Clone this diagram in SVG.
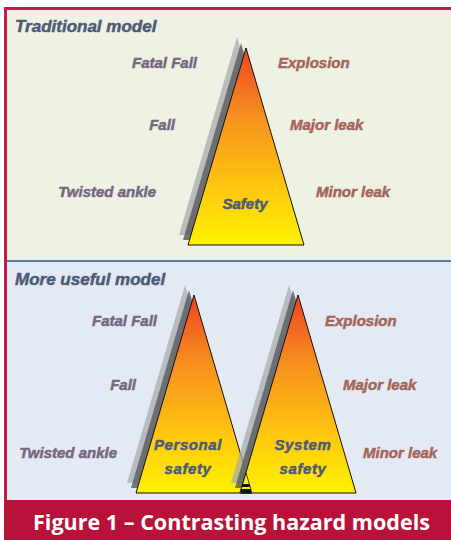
<svg xmlns="http://www.w3.org/2000/svg" width="451" height="540" viewBox="0 0 451 540">
<defs>
<linearGradient id="g" x1="0" y1="0" x2="0" y2="1">
<stop offset="0" stop-color="#EE4423"/>
<stop offset="0.35" stop-color="#F7901E"/>
<stop offset="0.7" stop-color="#FEC60F"/>
<stop offset="1" stop-color="#FFF200"/>
</linearGradient>
<style>
.lbl{font-family:"Liberation Sans",Arial,sans-serif;font-weight:bold;font-style:italic;font-size:15px;stroke-width:0.5px}
.l{fill:#76687F;stroke:#76687F;text-anchor:end}
.r{fill:#A5655A;stroke:#A5655A}
.t{fill:#4D5B78;stroke:#4D5B78}
.c{text-anchor:middle}
.tri{fill:url(#g);stroke:#111;stroke-width:1}
.s1{fill:#A9ABAE;opacity:0.75}
.s2{fill:#5E6064;opacity:0.85}
</style>
</defs>
<rect x="0" y="0" width="451" height="540" fill="#fff"/>
<rect x="4" y="7" width="447" height="254" fill="#EEF2E4"/>
<rect x="4" y="262" width="447" height="238" fill="#E3EAF3"/>
<rect x="4" y="7" width="447" height="3" fill="#C21E45"/>
<rect x="4" y="7" width="3" height="493" fill="#C21E45"/>
<rect x="7" y="260" width="444" height="2" fill="#5B7DA5"/>
<rect x="4" y="500" width="447" height="40" fill="#B8123A"/>

<g id="top-panel">
<text class="lbl t" x="15" y="32" style="font-size:17px">Traditional model</text>
</g>
<g id="traditional-pyramid">
<polygon class="s1" points="237,37 179,235 295,235"/>
<polygon class="s2" points="241,43 183,240 299,240"/>
<polygon class="tri" points="246,48 188,245 304,245"/>
<text class="lbl t c" x="245" y="209">Safety</text>
</g>
<g id="traditional-labels">
<text class="lbl l" x="197" y="68">Fatal Fall</text>
<text class="lbl l" x="175" y="130">Fall</text>
<text class="lbl l" x="156" y="197">Twisted ankle</text>
<text class="lbl r" x="278" y="68">Explosion</text>
<text class="lbl r" x="290" y="130">Major leak</text>
<text class="lbl r" x="316" y="197">Minor leak</text>
</g>

<g id="bottom-panel">
<text class="lbl t" x="15" y="285" style="font-size:17px">More useful model</text>
</g>
<g id="personal-pyramid">
<polygon class="s1" points="185,285 127,483 243,483"/>
<polygon class="s2" points="189,290 131,488 247,488"/>
<polygon class="tri" points="194,295 136,493 252,493"/>
</g>
<g id="system-pyramid">
<polygon class="s1" points="289,285 231,483 347,483"/>
<polygon class="s2" points="293,290 235,488 351,488"/>
<polygon class="tri" points="298,295 240,493 356,493"/>
<polygon points="246,473 240,493 252,493" fill="#FFF200" stroke="#111" stroke-width="0.8"/>
<rect x="242" y="484" width="8" height="3" fill="#111"/>
<rect x="241" y="489" width="10" height="4" fill="#111"/>
</g>
<g id="pyramid-texts">
<text class="lbl t c" x="188" y="450" letter-spacing="0.6">Personal</text>
<text class="lbl t c" x="188" y="474" letter-spacing="0.6">safety</text>
<text class="lbl t c" x="303" y="450" letter-spacing="0.6">System</text>
<text class="lbl t c" x="303" y="474" letter-spacing="0.6">safety</text>
</g>
<g id="useful-labels">
<text class="lbl l" x="157" y="326">Fatal Fall</text>
<text class="lbl l" x="136" y="390">Fall</text>
<text class="lbl l" x="117" y="458">Twisted ankle</text>
<text class="lbl r" x="325" y="326">Explosion</text>
<text class="lbl r" x="343" y="390">Major leak</text>
<text class="lbl r" x="363" y="458">Minor leak</text>
</g>
<g id="caption">
<text x="33" y="530" fill="#fff" font-family="'Open Sans','Liberation Sans',Arial,sans-serif" font-weight="bold" font-size="21" textLength="397" lengthAdjust="spacingAndGlyphs">Figure 1 – Contrasting hazard models</text>
</g>
</svg>
